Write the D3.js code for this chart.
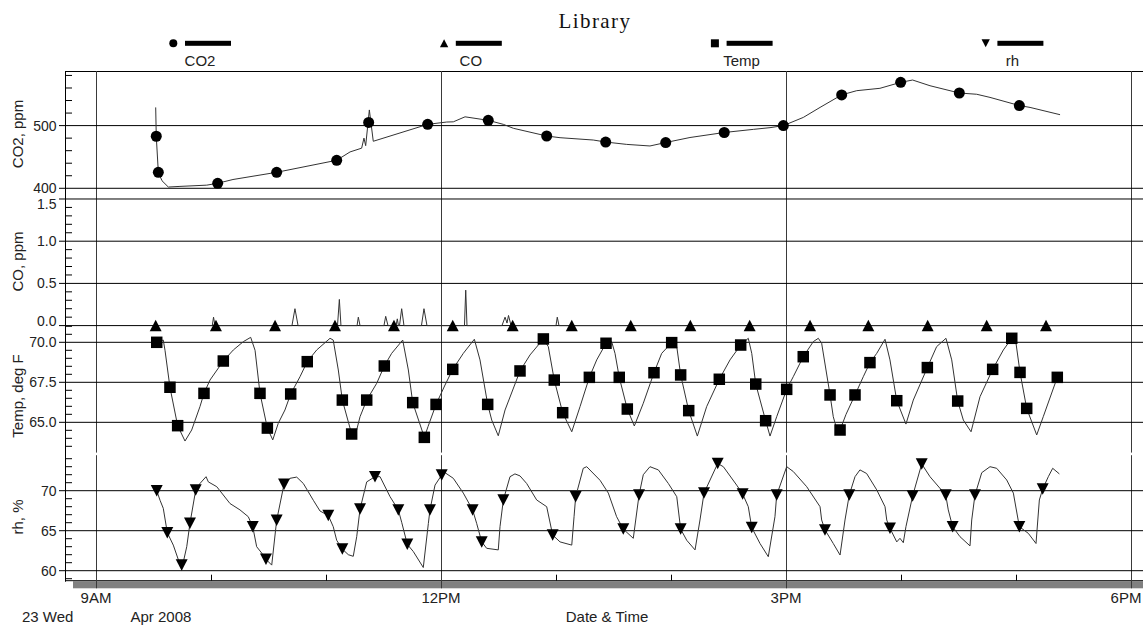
<!DOCTYPE html>
<html><head><meta charset="utf-8">
<script src="https://cdn.jsdelivr.net/npm/d3@7"></script>
<style>
html,body{margin:0;padding:0;background:#fff;}
svg{display:block;font-family:"Liberation Sans",Arial,sans-serif;}
</style></head><body>
<svg id="chart" width="1143" height="626"></svg>
<script>
// ---------------- data ----------------
const chartTitle = "Library";
const seriesNames = ["CO2", "CO", "Temp", "rh"];
const axisTitles = ["CO2, ppm", "CO, ppm", "Temp, deg F", "rh, %"];
const dateLabels = ["23 Wed", "Apr 2008"];
const xAxisTitle = "Date & Time";

// time = decimal hour of 23 Apr 2008
const co2Hours = [9.519, 9.524, 9.542, 9.574, 9.629, 9.730, 9.963, 10.058, 10.191, 10.571, 11.093, 11.209, 11.310, 11.330, 11.345, 11.377, 11.411, 11.884, 12.050, 12.107, 12.209, 12.411, 12.542, 12.629, 12.919, 13.035, 13.324, 13.432, 13.615, 13.817, 13.954, 14.165, 14.463, 14.716, 14.861, 14.977, 15.150, 15.296, 15.484, 15.615, 15.817, 15.997, 16.101, 16.252, 16.507, 16.658, 16.774, 17.029, 17.122, 17.383];
const co2Values = [529, 483, 425.5, 412, 402, 403, 405, 408, 414, 425.5, 444.7, 458, 464, 480, 468, 525, 475, 502, 505.7, 506, 514, 508.4, 502, 495.7, 483.4, 480.7, 477, 473.8, 470, 467.5, 473, 481, 489, 494, 496.7, 500, 513, 529, 549, 555.7, 559.5, 569, 572.7, 563.6, 552, 550, 545, 532, 529, 517.4];
const co2MarkHours = [9.524, 9.542, 10.058, 10.571, 11.093, 11.371, 11.884, 12.411, 12.919, 13.432, 13.954, 14.463, 14.977, 15.484, 15.997, 16.507, 17.029];
const co2MarkValues = [483, 425.5, 408, 425.5, 444.7, 505, 502, 508.4, 483.4, 473.8, 473, 489, 500, 549, 569, 552, 532];

const coHours = [9.519, 10.011, 10.022, 10.035, 10.704, 10.730, 10.757, 11.100, 11.116, 11.130, 11.270, 11.281, 11.296, 11.504, 11.519, 11.539, 11.609, 11.620, 11.630, 11.639, 11.658, 11.678, 11.830, 11.852, 11.878, 12.204, 12.215, 12.226, 12.530, 12.557, 12.574, 12.587, 12.609, 13.000, 13.011, 13.026, 17.383];
const coValues = [0, 0, 0.10, 0, 0, 0.20, 0, 0, 0.31, 0, 0, 0.10, 0, 0, 0.11, 0, 0, 0.08, 0, 0, 0.20, 0, 0, 0.20, 0, 0, 0.42, 0, 0, 0.10, 0.03, 0.12, 0, 0, 0.10, 0, 0];
const coMarkHours = [9.519, 10.043, 10.557, 11.078, 11.591, 12.102, 12.623, 13.137, 13.650, 14.168, 14.684, 15.209, 15.716, 16.232, 16.745, 17.261];
const coMarkValues = [0, 0, 0, 0, 0, 0, 0, 0, 0, 0, 0, 0, 0, 0, 0, 0];

const tempHours = [9.528, 9.585, 9.600, 9.643, 9.710, 9.774, 9.832, 9.904, 9.939, 9.991, 10.107, 10.194, 10.281, 10.345, 10.383, 10.426, 10.490, 10.537, 10.585, 10.643, 10.693, 10.774, 10.837, 10.919, 11.035, 11.063, 11.107, 11.142, 11.223, 11.252, 11.296, 11.354, 11.441, 11.507, 11.571, 11.667, 11.716, 11.754, 11.855, 11.887, 11.957, 12.035, 12.102, 12.194, 12.290, 12.339, 12.406, 12.441, 12.498, 12.557, 12.687, 12.774, 12.890, 12.933, 12.985, 13.058, 13.137, 13.209, 13.290, 13.354, 13.435, 13.484, 13.513, 13.550, 13.620, 13.681, 13.759, 13.852, 13.919, 14.006, 14.050, 14.084, 14.154, 14.229, 14.310, 14.420, 14.513, 14.606, 14.672, 14.702, 14.737, 14.823, 14.861, 14.919, 15.006, 15.063, 15.150, 15.237, 15.281, 15.310, 15.383, 15.411, 15.452, 15.470, 15.522, 15.600, 15.672, 15.730, 15.789, 15.861, 15.904, 15.963, 16.043, 16.107, 16.229, 16.310, 16.391, 16.441, 16.493, 16.542, 16.609, 16.687, 16.797, 16.890, 16.963, 17.000, 17.035, 17.093, 17.180, 17.237, 17.359];
const tempValues = [70.0, 70.14, 69.5, 67.19, 64.79, 63.83, 64.52, 65.98, 66.81, 67.64, 68.83, 69.52, 70.04, 70.31, 69.5, 66.81, 64.64, 63.9, 64.94, 65.77, 66.77, 67.85, 68.79, 69.52, 70.25, 70.14, 68.27, 66.39, 64.27, 64.1, 65.35, 66.39, 67.44, 68.52, 69.31, 70.14, 68.27, 66.23, 64.06, 64.73, 66.12, 67.33, 68.31, 69.31, 70.19, 68.9, 66.12, 65.14, 64.16, 65.77, 68.21, 69.21, 70.21, 69.73, 67.64, 65.6, 64.41, 65.98, 67.81, 68.9, 69.94, 70.04, 69.31, 67.81, 65.83, 64.77, 66.19, 68.1, 69.31, 69.98, 69.73, 67.96, 65.73, 64.14, 65.98, 67.69, 68.9, 69.83, 70.25, 69.31, 67.39, 65.1, 64.14, 65.35, 67.06, 67.85, 69.1, 70.04, 70.25, 69.94, 66.71, 65.35, 64.31, 64.52, 65.5, 66.71, 67.85, 68.73, 69.31, 70.19, 68.9, 66.35, 64.89, 66.39, 68.42, 69.73, 70.25, 68.9, 66.33, 65.14, 64.41, 66.6, 68.31, 69.52, 70.25, 69.94, 68.12, 65.87, 64.21, 65.35, 67.81];
const tempMarkHours = [9.528, 9.643, 9.710, 9.939, 10.107, 10.426, 10.490, 10.693, 10.837, 11.142, 11.223, 11.354, 11.507, 11.754, 11.855, 11.957, 12.102, 12.406, 12.687, 12.890, 12.985, 13.058, 13.290, 13.435, 13.550, 13.620, 13.852, 14.006, 14.084, 14.154, 14.420, 14.606, 14.737, 14.823, 15.006, 15.150, 15.383, 15.470, 15.600, 15.730, 15.963, 16.229, 16.493, 16.797, 16.963, 17.035, 17.093, 17.359];
const tempMarkValues = [70.0, 67.19, 64.79, 66.81, 68.83, 66.81, 64.64, 66.77, 68.79, 66.39, 64.27, 66.39, 68.52, 66.23, 64.06, 66.12, 68.31, 66.12, 68.21, 70.21, 67.64, 65.6, 67.81, 69.94, 67.81, 65.83, 68.1, 69.98, 67.96, 65.73, 67.69, 69.83, 67.39, 65.1, 67.06, 69.1, 66.71, 64.52, 66.71, 68.73, 66.35, 68.42, 66.33, 68.31, 70.25, 68.12, 65.87, 67.81];

const rhHours = [9.528, 9.557, 9.585, 9.620, 9.672, 9.745, 9.789, 9.817, 9.867, 9.904, 9.957, 9.977, 10.050, 10.165, 10.252, 10.324, 10.363, 10.397, 10.441, 10.478, 10.528, 10.571, 10.635, 10.687, 10.745, 10.803, 10.890, 10.948, 11.020, 11.063, 11.093, 11.142, 11.194, 11.237, 11.267, 11.296, 11.354, 11.426, 11.470, 11.557, 11.629, 11.659, 11.707, 11.759, 11.846, 11.890, 11.904, 11.948, 12.006, 12.035, 12.107, 12.194, 12.275, 12.310, 12.354, 12.397, 12.498, 12.513, 12.542, 12.600, 12.643, 12.687, 12.745, 12.832, 12.919, 12.971, 13.035, 13.137, 13.157, 13.171, 13.237, 13.267, 13.383, 13.455, 13.527, 13.585, 13.672, 13.722, 13.759, 13.817, 13.890, 13.977, 14.050, 14.084, 14.137, 14.209, 14.252, 14.287, 14.406, 14.455, 14.571, 14.623, 14.672, 14.702, 14.774, 14.846, 14.904, 14.919, 15.006, 15.063, 15.180, 15.296, 15.310, 15.339, 15.411, 15.470, 15.513, 15.550, 15.600, 15.643, 15.701, 15.789, 15.861, 15.876, 15.904, 15.963, 15.991, 16.020, 16.043, 16.101, 16.180, 16.252, 16.389, 16.411, 16.449, 16.513, 16.600, 16.615, 16.643, 16.702, 16.774, 16.832, 16.919, 16.977, 17.029, 17.107, 17.174, 17.203, 17.232, 17.281, 17.319, 17.377];
const rhValues = [70.0, 68.8, 67.8, 64.75, 63.2, 60.17, 63.0, 65.92, 70.08, 70.9, 71.75, 71.1, 70.5, 68.4, 67.6, 66.75, 65.5, 63.0, 62.2, 61.42, 60.7, 66.3, 70.8, 71.55, 71.7, 70.9, 68.8, 67.46, 66.9, 65.5, 63.8, 62.7, 62.0, 61.8, 64.25, 67.7, 71.1, 71.75, 71.75, 69.25, 67.6, 66.0, 63.3, 62.4, 60.4, 65.9, 67.6, 70.7, 71.96, 72.25, 71.55, 69.7, 67.6, 65.92, 63.6, 62.8, 62.6, 65.5, 68.84, 71.75, 72.1, 71.85, 70.9, 68.84, 68.0, 64.46, 63.6, 63.2, 66.75, 69.25, 72.8, 73.0, 71.3, 69.7, 66.75, 65.2, 64.05, 69.46, 72.0, 73.0, 72.6, 70.9, 69.25, 65.2, 63.8, 62.6, 66.34, 69.7, 73.4, 73.0, 70.7, 69.6, 68.0, 65.4, 63.4, 61.75, 66.75, 69.46, 73.0, 72.4, 70.5, 68.0, 66.34, 65.1, 63.4, 61.96, 66.34, 69.46, 71.75, 72.6, 72.15, 70.1, 68.0, 66.34, 65.3, 63.6, 64.05, 63.5, 65.5, 69.34, 73.34, 71.75, 69.46, 67.6, 65.5, 64.25, 63.1, 66.34, 69.46, 72.25, 73.0, 72.8, 71.34, 69.7, 65.5, 64.67, 63.4, 68.84, 70.2, 71.75, 72.8, 72.1];
const rhMarkHours = [9.528, 9.620, 9.745, 9.817, 9.867, 10.363, 10.478, 10.571, 10.635, 11.020, 11.142, 11.296, 11.426, 11.629, 11.707, 11.904, 12.006, 12.275, 12.354, 12.542, 12.971, 13.171, 13.585, 13.722, 14.084, 14.287, 14.406, 14.623, 14.702, 14.919, 15.339, 15.550, 15.904, 16.101, 16.180, 16.389, 16.449, 16.643, 17.029, 17.232];
const rhMarkValues = [70.0, 64.75, 60.7, 65.92, 70.08, 65.5, 61.42, 66.3, 70.8, 66.9, 62.7, 67.7, 71.75, 67.6, 63.3, 67.6, 71.96, 67.6, 63.6, 68.84, 64.46, 69.25, 65.2, 69.46, 65.2, 69.7, 73.4, 69.6, 65.4, 69.46, 65.1, 69.46, 65.3, 69.34, 73.34, 69.46, 65.5, 69.46, 65.5, 70.2];

const co2Ticks = [400, 500];
const coTicks = [0.0, 0.5, 1.0, 1.5];
const tempTicks = [65.0, 67.5, 70.0];
const rhTicks = [60, 65, 70];

// ---------------- layout ----------------
const svg = d3.select("#chart");
const day = new Date(2008, 3, 23).getTime();
const toDate = h => new Date(day + h * 3600000);
const plotL = 65, plotR = 1143, plotTop = 71, axisY = 580.7;
const x = d3.scaleTime().domain([toDate(8.7304), toDate(18.1043)]).range([plotL, plotR]);

const panels = [
  {title: axisTitles[0], titleY: 134, top: 71, bottom: 197, domain: [386.1, 587.1], ticks: co2Ticks, fmt: d3.format("d"), minor: d3.range(400, 581, 20),
   hours: co2Hours, values: co2Values, mh: co2MarkHours, mv: co2MarkValues, marker: "circle"},
  {title: axisTitles[1], titleY: 261.5, top: 197.3, bottom: 325.6, domain: [0, 1.52], ticks: coTicks, fmt: d3.format(".1f"), minor: d3.range(0, 15.01, 1).map(d => d / 10),
   hours: coHours, values: coValues, mh: coMarkHours, mv: coMarkValues, marker: "triUp"},
  {title: axisTitles[2], titleY: 396, top: 326.3, bottom: 452.4, domain: [63.12, 71], ticks: tempTicks, fmt: d3.format(".1f"), minor: d3.range(127, 142.01, 1).map(d => d / 2),
   hours: tempHours, values: tempValues, mh: tempMarkHours, mv: tempMarkValues, marker: "square"},
  {title: axisTitles[3], titleY: 517, top: 455.5, bottom: axisY, domain: [58.75, 74.4], ticks: rhTicks, fmt: d3.format("d"), minor: d3.range(59, 74.01, 1),
   hours: rhHours, values: rhValues, mh: rhMarkHours, mv: rhMarkValues, marker: "triDown"}
];
panels.forEach(p => { p.y = d3.scaleLinear().domain(p.domain).range([p.bottom, p.top]); });

function shapePath(type, s) {
  const h = s / 2;
  if (type === "square") return `M${-h},${-h}h${s}v${s}h${-s}Z`;
  if (type === "triUp") return `M0,${-h}L${h * 1.04},${h}L${-h * 1.04},${h}Z`;
  if (type === "triDown") return `M0,${h}L${h * 1.04},${-h}L${-h * 1.04},${-h}Z`;
  return d3.symbol(d3.symbolCircle, Math.PI * h * h)();
}
const markerSize = {circle: 11, triUp: 11.5, square: 11.5, triDown: 11.5};

const grid = svg.append("g");
const ink = "#000";

// top frame, left axis, bottom axis + shadow
grid.append("rect").attr("x", 73).attr("y", axisY + 0.6).attr("width", plotR - 73).attr("height", 7).attr("fill", "#808080");
grid.append("line").attr("x1", plotL).attr("x2", plotR).attr("y1", plotTop + 0.5).attr("y2", plotTop + 0.5).attr("stroke", ink);
grid.append("line").attr("x1", plotL + 0.5).attr("x2", plotL + 0.5).attr("y1", plotTop).attr("y2", axisY + 1).attr("stroke", ink);
grid.append("line").attr("x1", plotL).attr("x2", plotR).attr("y1", axisY).attr("y2", axisY).attr("stroke", ink);

// x ticks
const hourTicks = x.ticks(d3.timeHour.every(1));
const majorTicks = hourTicks.filter(d => d.getHours() % 3 === 0);
const minorTicks = hourTicks.filter(d => d.getHours() % 3 !== 0);
grid.selectAll(".xminor").data(minorTicks).join("line")
  .attr("x1", d => Math.round(x(d)) + 0.5).attr("x2", d => Math.round(x(d)) + 0.5)
  .attr("y1", axisY - 6).attr("y2", axisY).attr("stroke", ink);
[[plotTop, 452.6], [455.2, axisY + 7.6]].forEach(([a, b]) => {
  grid.selectAll(null).data(majorTicks).join("line")
    .attr("x1", d => Math.round(x(d)) + 0.5).attr("x2", d => Math.round(x(d)) + 0.5)
    .attr("y1", a).attr("y2", b).attr("stroke", "#3a3a3a");
});
const fmtHour = d3.timeFormat("%-I%p");
svg.selectAll(".xlab").data(majorTicks).join("text")
  .attr("x", d => Math.min(x(d), plotR - 17)).attr("y", 602.5).attr("text-anchor", "middle")
  .attr("font-size", 15).attr("fill", "#222").text(d => fmtHour(d));
svg.append("text").attr("x", 22).attr("y", 622).attr("font-size", 15).attr("fill", "#222").text(dateLabels[0]);
svg.append("text").attr("x", 130.5).attr("y", 622).attr("font-size", 15).attr("fill", "#222").text(dateLabels[1]);
svg.append("text").attr("x", 607).attr("y", 622).attr("text-anchor", "middle").attr("font-size", 15).attr("fill", "#222").text(xAxisTitle);

// panels
panels.forEach(p => {
  const g = svg.append("g");
  // horizontal gridlines at major ticks
  g.selectAll(".hg").data(p.ticks).join("line")
    .attr("x1", plotL - 6).attr("x2", plotR)
    .attr("y1", d => p.y(d)).attr("y2", d => p.y(d)).attr("stroke", ink);
  // minor ticks
  g.selectAll(".mt").data(p.minor.filter(v => !p.ticks.some(t => Math.abs(t - v) < 1e-6))).join("line")
    .attr("x1", plotL).attr("x2", plotL + 7)
    .attr("y1", d => p.y(d)).attr("y2", d => p.y(d)).attr("stroke", ink);
  // tick labels
  g.selectAll(".tl").data(p.ticks).join("text")
    .attr("x", 56.5).attr("text-anchor", "end").attr("font-size", 14).attr("fill", "#222")
    .attr("y", d => Math.max(p.top + 6.5, Math.min(p.bottom - 5, p.y(d))) + 5)
    .text(d => p.fmt(d));
  // axis title
  g.append("text").attr("transform", `translate(23,${p.titleY}) rotate(-90)`)
    .attr("text-anchor", "middle").attr("font-size", 15).attr("fill", "#222").text(p.title);
  // line
  const pts = p.hours.map((h, i) => [toDate(h), p.values[i]]);
  g.append("path").datum(pts)
    .attr("d", d3.line().x(d => x(d[0])).y(d => p.y(d[1])))
    .attr("fill", "none").attr("stroke", "#333").attr("stroke-width", 1);
  // markers
  const mk = p.mh.map((h, i) => [toDate(h), p.mv[i]]);
  g.selectAll(".mk").data(mk).join("path")
    .attr("transform", d => `translate(${x(d[0])},${p.y(d[1])})`)
    .attr("d", shapePath(p.marker, markerSize[p.marker]))
    .attr("fill", "#000");
});

// title
svg.append("text").attr("x", 595).attr("y", 28).attr("text-anchor", "middle")
  .attr("font-family", "'Liberation Serif','Times New Roman',serif").attr("font-size", 21)
  .attr("letter-spacing", 1.4).attr("fill", "#111").text(chartTitle);

// legend
const legendMarkers = ["circle", "triUp", "square", "triDown"];
const leg = svg.append("g");
seriesNames.forEach((name, i) => {
  const mx = 173.3 + i * 270.8;
  leg.append("path").attr("transform", `translate(${mx},43.3)`)
    .attr("d", shapePath(legendMarkers[i], 8)).attr("fill", "#000");
  leg.append("rect").attr("x", mx + 11.7).attr("y", 40.8).attr("width", 46).attr("height", 5).attr("fill", "#000");
  leg.append("text").attr("x", mx + 26.7).attr("y", 65.5).attr("text-anchor", "middle")
    .attr("font-size", 15).attr("fill", "#222").text(name);
});
</script>
</body></html>
